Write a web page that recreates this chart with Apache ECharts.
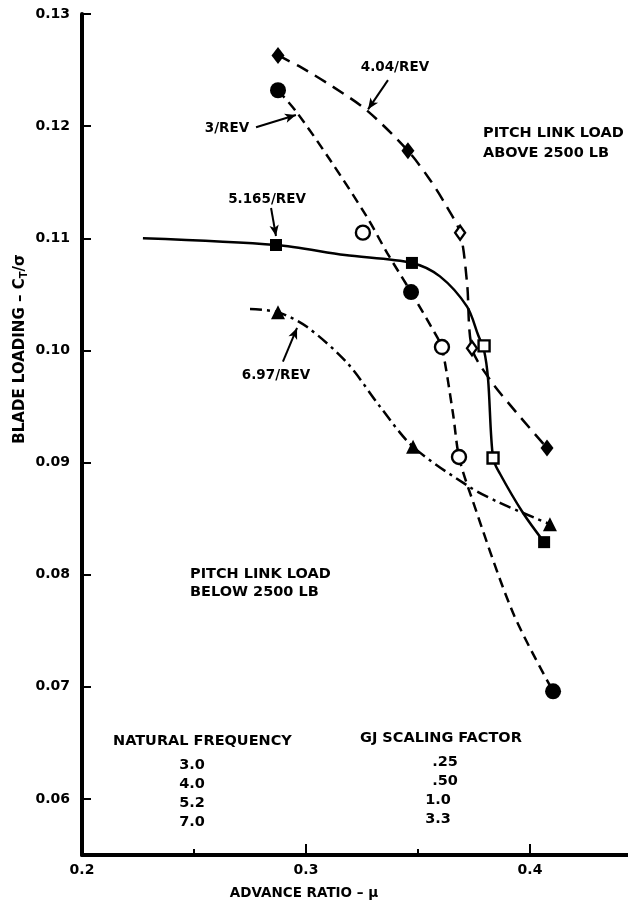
<!DOCTYPE html>
<html>
<head>
<meta charset="utf-8">
<script src="https://cdn.jsdelivr.net/npm/echarts@6/dist/echarts.min.js"></script>
<style>
  html, body { margin: 0; padding: 0; background: #fff; }
  #chart { width: 628px; height: 905px; }
</style>
</head>
<body>
<div id="chart"></div>
<script>
// Axis ticks and labels
const xLabelValues = [0.2, 0.3, 0.4];
const xMajorTicks = [0.3, 0.4];
const xMinorTicks = [0.25, 0.35];
const yTickValues = [0.06, 0.07, 0.08, 0.09, 0.10, 0.11, 0.12, 0.13];

// Faired boundary curves, [advance ratio, CT/sigma]
const curve3Rev = [[0.2875,0.1232],[0.2960,0.1212],[0.3107,0.1170],[0.3272,0.1119],[0.3362,0.1087],
  [0.3469,0.1052],[0.3585,0.1012],[0.3607,0.1003],[0.3656,0.0944],[0.3683,0.0905],
  [0.3732,0.0873],[0.3924,0.0766],[0.4103,0.0696]];
const curve404Rev = [[0.2875,0.1263],[0.2973,0.1253],[0.3121,0.1235],[0.3272,0.1214],[0.3455,0.1178],
  [0.3554,0.1152],[0.3629,0.1128],[0.3688,0.1105],[0.3719,0.1060],[0.3741,0.1002],
  [0.3821,0.0974],[0.3942,0.0944],[0.4076,0.0913]];
const curve5165Rev = [[0.2272,0.1100],[0.2866,0.1094],[0.3174,0.1085],[0.3473,0.1078],[0.3598,0.1066],
  [0.3719,0.1039],[0.3768,0.1014],[0.3795,0.1000],[0.3813,0.0974],[0.3835,0.0904],
  [0.3866,0.0890],[0.3969,0.0855],[0.4063,0.0829]];
const curve697Rev = [[0.2750,0.1037],[0.2875,0.1034],[0.3004,0.1021],[0.3183,0.0989],[0.3330,0.0950],
  [0.3478,0.0914],[0.3732,0.0878],[0.3866,0.0864],[0.4089,0.0845]];

// Test points
const filledCircles = [[0.2875,0.1232],[0.3469,0.1052],[0.4103,0.0696]];
const filledDiamonds = [[0.2875,0.1263],[0.3455,0.1178],[0.4076,0.0913]];
const filledSquares = [[0.2866,0.1094],[0.3473,0.1078],[0.4063,0.0829]];
const filledTriangles = [[0.2875,0.1034],[0.3478,0.0914],[0.4089,0.0845]];
const openCircles = [[0.3254,0.1105],[0.3607,0.1003],[0.3683,0.0905]];
const openDiamonds = [[0.3688,0.1105],[0.3741,0.1002]];
const openSquares = [[0.3795,0.1004],[0.3835,0.0904]];

// Curve callouts: text position, arrow tail, arrow head
const calloutTexts = ['3/REV', '4.04/REV', '5.165/REV', '6.97/REV'];
const calloutTextPos = [[0.2647,0.1198],[0.3397,0.1252],[0.2826,0.1135],[0.2866,0.0978]];
const calloutTail = [[0.2777,0.1199],[0.3366,0.1241],[0.2844,0.1127],[0.2897,0.0990]];
const calloutHead = [[0.2955,0.1210],[0.3277,0.1215],[0.2866,0.1102],[0.2960,0.1020]];

// Frequency / GJ scaling table
const freqValues = ['3.0', '4.0', '5.2', '7.0'];
const gjValues = ['.25', '.50', '1.0', '3.3'];

const FONT = 'DejaVu Sans';
const INK = '#000';

const chart = echarts.init(document.getElementById('chart'), null, { renderer: 'canvas' });

function curveSeries(name, data, dash) {
  return {
    name, type: 'line', data, smooth: 0.3, symbol: 'none',
    lineStyle: { color: INK, width: 2.5, type: dash },
    z: 2
  };
}
function markerSeries(name, data, symbol, size, filled) {
  return {
    name, type: 'scatter', data, symbol, symbolSize: size,
    itemStyle: filled
      ? { color: INK, opacity: 1 }
      : { color: '#fff', borderColor: INK, borderWidth: 2.4, opacity: 1 },
    z: 5
  };
}

const arrowLines = calloutTail.map((t, i) => [{ coord: t }, { coord: calloutHead[i] }]);

chart.setOption({
  animation: false,
  backgroundColor: '#fff',
  grid: { left: 82, right: 0, top: 14, bottom: 50, containLabel: false },
  xAxis: [
    {
      type: 'value', min: 0.2, max: 0.44375,
      axisLine: { show: true, lineStyle: { color: INK, width: 4 } },
      axisTick: { show: true, inside: true, length: 11, customValues: xMajorTicks, lineStyle: { color: INK, width: 2 } },
      axisLabel: { show: true, customValues: xLabelValues, formatter: v => v.toFixed(1), margin: 8,
        color: INK, fontFamily: FONT, fontWeight: 'bold', fontSize: 14 },
      splitLine: { show: false }
    },
    {
      type: 'value', min: 0.2, max: 0.44375, position: 'bottom',
      axisLine: { show: false },
      axisTick: { show: true, inside: true, length: 6, customValues: xMinorTicks, lineStyle: { color: INK, width: 2 } },
      axisLabel: { show: false },
      splitLine: { show: false }
    }
  ],
  yAxis: {
    type: 'value', min: 0.055, max: 0.13,
    axisLine: { show: true, lineStyle: { color: INK, width: 4 } },
    axisTick: { show: true, inside: true, length: 9, customValues: yTickValues, lineStyle: { color: INK, width: 2 } },
    axisLabel: { show: true, customValues: yTickValues, formatter: v => v.toFixed(2), margin: 12,
      color: INK, fontFamily: FONT, fontWeight: 'bold', fontSize: 14 },
    splitLine: { show: false }
  },
  series: [
    curveSeries('3/REV', curve3Rev, [10, 6]),
    curveSeries('4.04/REV', curve404Rev, [13, 8]),
    Object.assign(curveSeries('5.165/REV', curve5165Rev, 'solid'), {
      markLine: {
        silent: true, symbol: ['none', 'arrow'], symbolSize: [7, 11],
        label: { show: false },
        lineStyle: { color: INK, width: 2, type: 'solid' },
        data: arrowLines
      }
    }),
    curveSeries('6.97/REV', curve697Rev, [12, 5, 3, 5]),
    markerSeries('3.0 filled', filledCircles, 'circle', 16, true),
    markerSeries('4.0 filled', filledDiamonds, 'diamond', [13, 17], true),
    markerSeries('5.2 filled', filledSquares, 'rect', 12, true),
    markerSeries('7.0 filled', filledTriangles, 'triangle', 14, true),
    markerSeries('3.0 open', openCircles, 'circle', 14, false),
    markerSeries('4.0 open', openDiamonds, 'diamond', [10, 14], false),
    markerSeries('5.2 open', openSquares, 'rect', 11, false)
  ]
});

// Text annotations placed after layout so data-anchored ones follow the axes
const txt = (text, x, y, opts = {}) => Object.assign({
  type: 'text', x, y, z: 10,
  style: {
    text, fill: INK, font: `bold ${opts.size || 15}px "${FONT}"`,
    textAlign: opts.align || 'left', textVerticalAlign: 'middle'
  }
});

const graphics = [];
calloutTexts.forEach((t, i) => {
  const p = chart.convertToPixel({ gridIndex: 0 }, calloutTextPos[i]);
  graphics.push(txt(t, p[0], p[1], { size: 13.5, align: 'center' }));
});

graphics.push(txt('PITCH LINK LOAD', 483, 133, { size: 14.5 }));
graphics.push(txt('ABOVE 2500 LB', 483, 153, { size: 14.5 }));
graphics.push(txt('PITCH LINK LOAD', 190, 574, { size: 14.5 }));
graphics.push(txt('BELOW 2500 LB', 190, 592, { size: 14.5 }));

graphics.push(txt('NATURAL FREQUENCY', 113, 741, { size: 14.5 }));
graphics.push(txt('GJ SCALING FACTOR', 360, 738, { size: 14.5 }));
freqValues.forEach((v, i) => graphics.push(txt(v, 192, 765 + i * 19, { size: 14.5, align: 'center' })));
gjValues.forEach((v, i) => graphics.push(txt(v, i < 2 ? 445 : 438, 762 + i * 19, { size: 14.5, align: 'center' })));

graphics.push(txt('ADVANCE RATIO – μ', 304, 893, { size: 13.5, align: 'center' }));
graphics.push({
  type: 'text', x: 20, y: 349, rotation: Math.PI / 2, z: 10,
  style: {
    text: '{a|BLADE LOADING – C}{s|T}{a|/σ}',
    textAlign: 'center', textVerticalAlign: 'middle',
    rich: {
      a: { fill: INK, font: `bold 15px "${FONT}"` },
      s: { fill: INK, font: `bold 10px "${FONT}"`, padding: [8, 0, 0, 0] }
    }
  }
});

chart.setOption({ graphic: graphics });
</script>
</body>
</html>
